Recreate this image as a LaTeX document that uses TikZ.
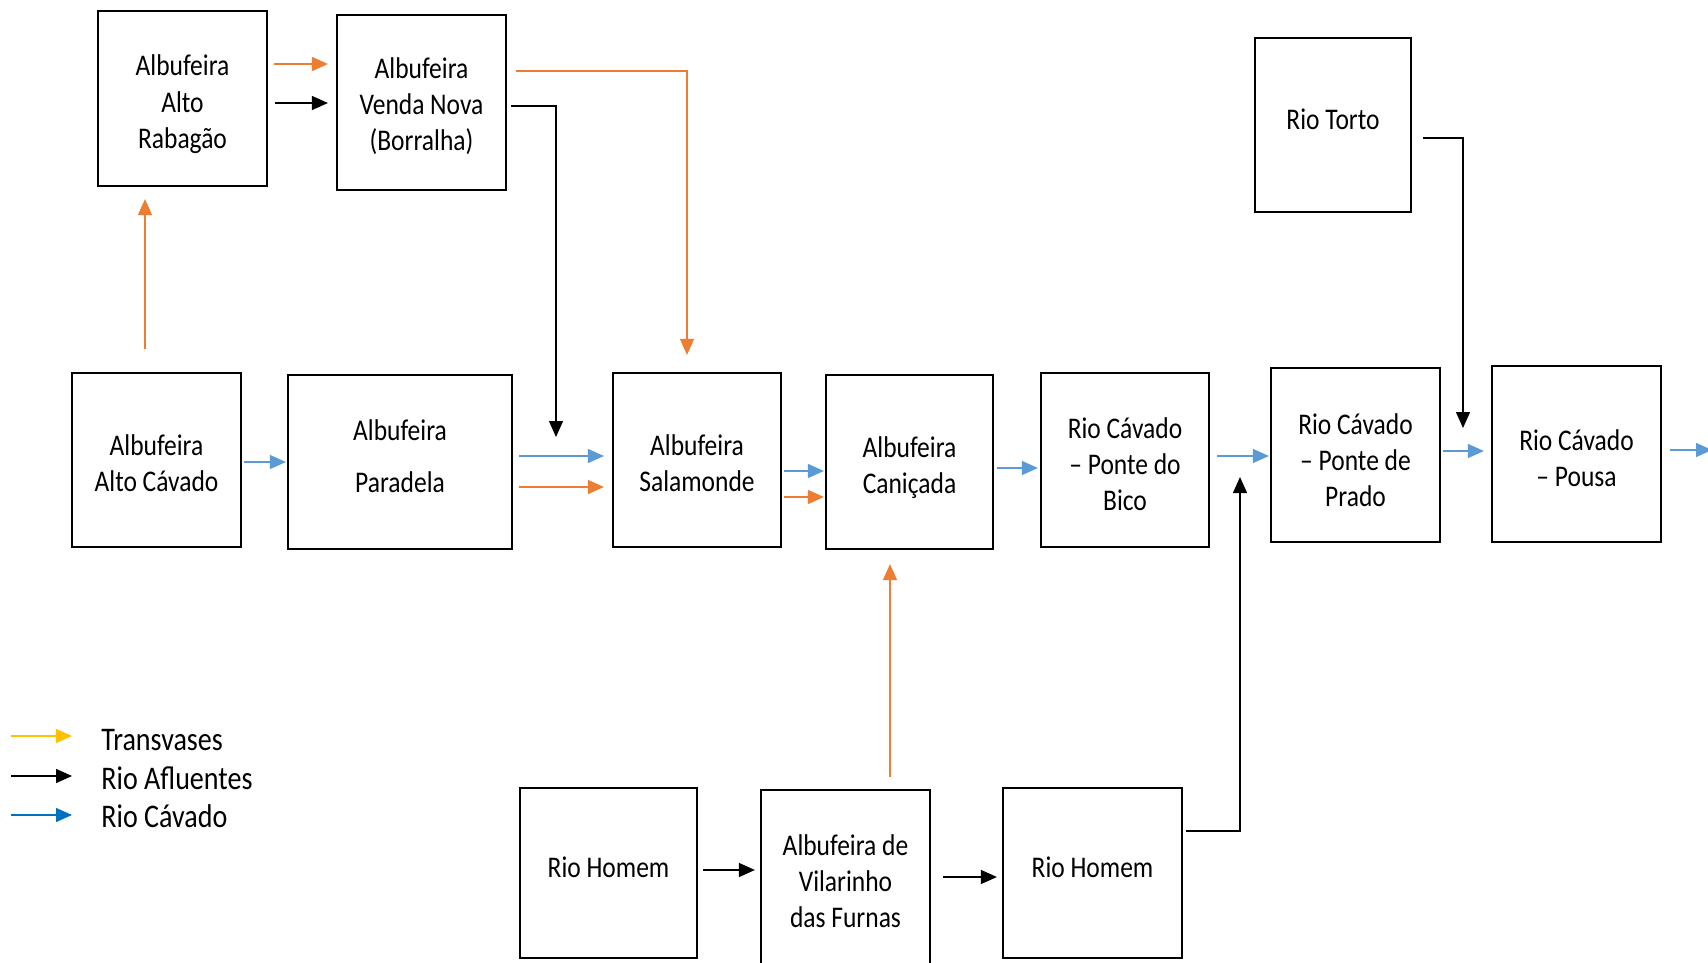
\documentclass[tikz,border=0pt]{standalone}
\usepackage{fontspec}
\setmainfont{Carlito}[FakeStretch=0.85]
\usetikzlibrary{arrows.meta}
\definecolor{orng}{HTML}{ED7D31}
\definecolor{lblue}{HTML}{5B9BD5}
\definecolor{lgyel}{HTML}{FFC000}
\definecolor{lgblue}{HTML}{0070C0}
% #1 = downward shift of the text inside its box
\newcommand\bt[2][0pt]{\raisebox{\dimexpr-#1-3.75pt\relax}[0pt][0pt]{\begin{tabular}{@{}c@{}}#2\end{tabular}}}
\begin{document}
\begin{tikzpicture}[x=0.5pt,y=-0.5pt,
  box/.style={draw, line width=1.1pt, inner sep=0pt,
    font=\fontsize{15}{18}\selectfont},
  conn/.style={line width=0.65pt, -{Triangle[length=8pt,width=7pt]}},
  oarr/.style={conn, draw=orng},
  karr/.style={conn, draw=black},
  blarr/.style={conn, draw=lblue},
  legtext/.style={anchor=west, inner sep=0pt, font=\fontsize{16.5}{19}\selectfont}
]
\fill[white] (0,0) rectangle (1708,963);
\useasboundingbox (0,0) rectangle (1708,963);

% boxes
\node[box, minimum width=84.5pt, minimum height=87.5pt] (rab) at (182.5,98.5) {\bt[3pt]{Albufeira\\Alto\\Rabagão}};
\node[box, minimum width=84.5pt, minimum height=87.5pt] (venda) at (421.5,102.5) {\bt[2.2pt]{Albufeira\\Venda Nova\\(Borralha)}};
\node[box, minimum width=78pt, minimum height=87pt] (torto) at (1333,125) {\bt[-1.6pt]{Rio Torto}};
\node[box, minimum width=84.5pt, minimum height=87pt] (altocav) at (156.5,460) {\bt[3pt]{Albufeira\\Alto Cávado}};
\node[box, minimum width=112pt, minimum height=87pt] (paradela) at (400,462) {\bt[-1.6pt]{Albufeira\\[8pt]Paradela}};
\node[box, minimum width=84pt, minimum height=87pt] (salamonde) at (697,460) {\bt[3pt]{Albufeira\\Salamonde}};
\node[box, minimum width=83.5pt, minimum height=87pt] (canicada) at (909.5,462) {\bt[3pt]{Albufeira\\Caniçada}};
\node[box, minimum width=84pt, minimum height=87pt] (bico) at (1125,460) {\bt[3.5pt]{Rio Cávado\\– Ponte do\\Bico}};
\node[box, minimum width=84.5pt, minimum height=87pt] (prado) at (1355.5,455) {\bt[4.1pt]{Rio Cávado\\– Ponte de\\Prado}};
\node[box, minimum width=84.5pt, minimum height=88pt] (pousa) at (1576.5,454) {\bt[3.5pt]{Rio Cávado\\– Pousa}};
\node[box, minimum width=88.5pt, minimum height=85pt] (homem1) at (608.5,873) {\bt[-1.7pt]{Rio Homem}};
\node[box, minimum width=84.5pt, minimum height=89pt] (vilar) at (845.5,879) {\bt[2.4pt]{Albufeira de\\Vilarinho\\das Furnas}};
\node[box, minimum width=89.5pt, minimum height=85pt] (homem2) at (1092.5,873) {\bt[-1.7pt]{Rio Homem}};

% free ends
\coordinate (j1) at (556,437);
\coordinate (j2) at (1463,428);
\coordinate (j3) at (1240,477);
\coordinate (out) at (1712,450);

% connectors
\draw[oarr, shorten <=3pt, shorten >=4pt] (rab.east |- 0,64) -- (venda.west |- 0,64);
\draw[karr, shorten <=3.5pt, shorten >=4pt] (rab.east |- 0,103) -- (venda.west |- 0,103);
\draw[oarr, shorten <=11.5pt, shorten >=6pt] (altocav.north -| 145,0) -- (rab.south -| 145,0);
\draw[oarr, shorten <=4.5pt, shorten >=8.5pt] (venda.east |- 0,71) -| ([xshift=-5pt]salamonde.north);
\draw[karr, shorten <=2pt] (venda.east |- 0,106) -| (j1);
\draw[blarr, shorten <=1pt, shorten >=0.5pt] (altocav.east |- 0,462) -- (paradela.west |- 0,462);
\draw[blarr, shorten <=3pt, shorten >=4pt] (paradela.east |- 0,456) -- (salamonde.west |- 0,456);
\draw[oarr, shorten <=3pt, shorten >=4pt] (paradela.east |- 0,487) -- (salamonde.west |- 0,487);
\draw[blarr, shorten <=1pt, shorten >=0.5pt] (salamonde.east |- 0,471) -- (canicada.west |- 0,471);
\draw[oarr, shorten <=1pt, shorten >=0.5pt] (salamonde.east |- 0,497) -- (canicada.west |- 0,497);
\draw[blarr, shorten <=1.5pt, shorten >=1pt] (canicada.east |- 0,468) -- (bico.west |- 0,468);
\draw[blarr, shorten <=3.5pt, shorten >=0.5pt] (bico.east |- 0,456) -- (prado.west |- 0,456);
\draw[blarr, shorten <=1pt, shorten >=3.5pt] (prado.east |- 0,451) -- (pousa.west |- 0,451);
\draw[blarr, shorten <=4pt] (pousa.east |- 0,450) -- (out);
\draw[karr, shorten <=5.5pt] (torto.east |- 0,138) -| (j2);
\draw[karr, shorten <=1.5pt] (homem2.east |- 0,831) -| (j3);
\draw[oarr, shorten <=6pt, shorten >=7pt] (vilar.north -| 890,0) -- (canicada.south -| 890,0);
\draw[karr, shorten <=2.5pt, shorten >=2.5pt] (homem1.east |- 0,870) -- (vilar.west |- 0,870);
\draw[karr, shorten <=6pt, shorten >=2.5pt] (vilar.east |- 0,877) -- (homem2.west |- 0,877);

% legend
\node[legtext] (l1) at (101,740) {Transvases};
\node[legtext] (l2) at (101,778) {Rio Afluentes};
\node[legtext] (l3) at (101,816) {Rio Cávado};
\coordinate (ls1) at (11,736);
\coordinate (ls2) at (11,776);
\coordinate (ls3) at (11,815);
\draw[conn, draw=lgyel, shorten >=14.5pt] (ls1) -- (l1.west |- ls1);
\draw[conn, draw=black, shorten >=14.5pt] (ls2) -- (l2.west |- ls2);
\draw[conn, draw=lgblue, shorten >=14.5pt] (ls3) -- (l3.west |- ls3);
\end{tikzpicture}
\end{document}
